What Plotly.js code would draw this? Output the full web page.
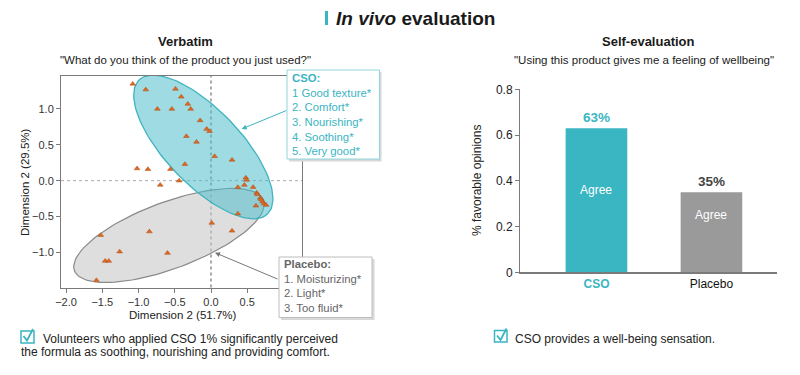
<!DOCTYPE html>
<html><head><meta charset="utf-8">
<script src="https://cdn.plot.ly/plotly-3.0.1.min.js"></script>
<style>html,body{margin:0;padding:0;background:#fff;} #chart{width:800px;height:375px;}</style>
</head><body><div id="chart"></div>
<script>
// ---- Data ----
const dimX = [-1.08,-0.90,-0.49,-0.41,-0.74,-0.54,-0.32,-0.28,-0.15,-0.06,-0.02,-0.34,-0.20,0.05,0.29,-0.36,-1.02,-0.87,-0.56,-0.70,-0.44,
  0.48,0.49,0.46,0.37,0.58,0.63,0.64,0.68,0.69,0.71,0.73,0.76,0.62,0.37,0.01,0.29,-0.85,-1.52,-1.26,-0.60,-1.46,-1.41,-1.58];
const dimY = [1.35,1.27,1.28,1.17,1.00,1.00,1.07,1.00,0.84,0.72,0.69,0.62,0.54,0.34,0.29,0.23,0.17,0.16,0.16,-0.06,0.00,
  0.04,0.01,-0.06,-0.09,-0.09,-0.17,-0.19,-0.24,-0.26,-0.29,-0.32,-0.34,-0.35,-0.46,-0.59,-0.70,-0.71,-0.76,-0.99,-1.01,-1.12,-1.12,-1.39];
const xTicks = [-2.0,-1.5,-1.0,-0.5,0.0,0.5];
const yTicks = [-1.0,-0.5,0.0,0.5,1.0];
const barCategories = ['CSO','Placebo'];
const barValues = [0.63, 0.35];
const insideLabels = ['Agree','Agree'];
const barTicks = [0,0.2,0.4,0.6,0.8];
const barTickText = ['0','0.2','0.4','0.6','0.8'];
const csoItems = ['1 Good texture*','2. Comfort*','3. Nourishing*','4. Soothing*','5. Very good*'];
const placeboItems = ['1. Moisturizing*','2. Light*','3. Too fluid*'];
// ellipse: centre x, centre y, semi-major, semi-minor, angle (deg)
const csoEllipse = [-0.106, 0.47, 1.287, 0.519, -46.7];
const placeboEllipse = [-0.579, -0.764, 1.394, 0.463, 20.7];

// ---- Helpers ----
const W = 800, H = 375;
const px = v => v / W;
const py = v => 1 - v / H;
const TEAL = '#3ab5c2';
const FONT = 'Liberation Sans, Arial, sans-serif';

function ellipsePath(p) {
  const [cx, cy, a, b, ang] = p;
  const th = ang * Math.PI / 180;
  const xs = [], ys = [];
  for (let i = 0; i <= 120; i++) {
    const t = 2 * Math.PI * i / 120;
    xs.push(cx + a * Math.cos(t) * Math.cos(th) - b * Math.sin(t) * Math.sin(th));
    ys.push(cy + a * Math.cos(t) * Math.sin(th) + b * Math.sin(t) * Math.cos(th));
  }
  return {xs, ys};
}
const ePl = ellipsePath(placeboEllipse);
const eCso = ellipsePath(csoEllipse);

const traces = [
  {x: ePl.xs, y: ePl.ys, type: 'scatter', mode: 'lines', fill: 'toself',
   fillcolor: 'rgba(200,200,200,0.6)', line: {color: '#8a8a8a', width: 1.2},
   xaxis: 'x', yaxis: 'y', hoverinfo: 'skip', showlegend: false},
  {x: eCso.xs, y: eCso.ys, type: 'scatter', mode: 'lines', fill: 'toself',
   fillcolor: 'rgba(80,190,202,0.55)', line: {color: '#3fb3bf', width: 1.3},
   xaxis: 'x', yaxis: 'y', hoverinfo: 'skip', showlegend: false},
  {x: dimX, y: dimY, type: 'scatter', mode: 'markers',
   marker: {symbol: 'triangle-up', size: 5, color: '#dc6a22', line: {color: '#b04a10', width: 0.5}},
   xaxis: 'x', yaxis: 'y', showlegend: false},
  {x: barCategories, y: barValues, type: 'bar', xaxis: 'x2', yaxis: 'y2',
   width: 0.536, marker: {color: [TEAL, '#9a9a9a']},
   text: barValues.map(v => '<b>' + Math.round(v * 100) + '%</b>'), textposition: 'outside',
   textfont: {family: FONT, size: 13.5, color: [TEAL, '#444']}, cliponaxis: false,
   showlegend: false}
];

const agreeY = [0.36, 0.25];

const shapes = [
  {type: 'line', xref: 'x', yref: 'y domain', x0: 0, x1: 0, y0: 0, y1: 1,
   line: {color: '#555', width: 1, dash: 'dot'}, layer: 'below'},
  {type: 'line', xref: 'x domain', yref: 'y', x0: 0, x1: 1, y0: 0, y1: 0,
   line: {color: '#aaa', width: 1, dash: 'dot'}, layer: 'below'},
  // title bar
  {type: 'rect', xref: 'paper', yref: 'paper', x0: px(325), x1: px(328), y0: py(25), y1: py(11),
   fillcolor: TEAL, line: {width: 0}},
  // box shadows
  {type: 'rect', xref: 'paper', yref: 'paper', x0: px(289), x1: px(381.5), y0: py(161.5), y1: py(72),
   fillcolor: '#d8d8d8', line: {width: 0}},
  {type: 'rect', xref: 'paper', yref: 'paper', x0: px(281), x1: px(374.5), y0: py(320), y1: py(259),
   fillcolor: '#d8d8d8', line: {width: 0}},
  // boxes
  {type: 'rect', xref: 'paper', yref: 'paper', x0: px(287), x1: px(379.5), y0: py(159), y1: py(70),
   fillcolor: '#fff', line: {color: '#8fd6dc', width: 1}},
  {type: 'rect', xref: 'paper', yref: 'paper', x0: px(279), x1: px(372), y0: py(317.5), y1: py(257),
   fillcolor: '#fff', line: {color: '#bdbdbd', width: 1}},
  // checkboxes
  {type: 'rect', xref: 'paper', yref: 'paper', x0: px(21), x1: px(34), y0: py(343), y1: py(331),
   line: {color: TEAL, width: 1.5}},
  {type: 'path', xref: 'paper', yref: 'paper',
   path: `M ${px(23.5)} ${py(336)} L ${px(27)} ${py(340.5)} L ${px(33)} ${py(329)}`,
   line: {color: TEAL, width: 1.8}},
  {type: 'rect', xref: 'paper', yref: 'paper', x0: px(494.5), x1: px(507), y0: py(342), y1: py(330.5),
   line: {color: TEAL, width: 1.5}},
  {type: 'path', xref: 'paper', yref: 'paper',
   path: `M ${px(497)} ${py(335.5)} L ${px(500.5)} ${py(340)} L ${px(506.5)} ${py(328.5)}`,
   line: {color: TEAL, width: 1.8}}
];

const annotations = [
  {xref: 'paper', yref: 'paper', x: px(334), y: py(18), xanchor: 'left', yanchor: 'middle', showarrow: false,
   text: '<b><i>In vivo</i> evaluation</b>', font: {family: FONT, size: 19, color: '#1a1a1a'}},
  {xref: 'paper', yref: 'paper', x: px(185), y: py(42), xanchor: 'center', yanchor: 'middle', showarrow: false,
   text: '<b>Verbatim</b>', font: {family: FONT, size: 13, color: '#1a1a1a'}},
  {xref: 'paper', yref: 'paper', x: px(185), y: py(60), xanchor: 'center', yanchor: 'middle', showarrow: false,
   text: '"What do you think of the product you just used?"', font: {family: FONT, size: 11.5, color: '#1a1a1a'}},
  {xref: 'paper', yref: 'paper', x: px(648), y: py(42), xanchor: 'center', yanchor: 'middle', showarrow: false,
   text: '<b>Self-evaluation</b>', font: {family: FONT, size: 13, color: '#1a1a1a'}},
  {xref: 'paper', yref: 'paper', x: px(644), y: py(60), xanchor: 'center', yanchor: 'middle', showarrow: false,
   text: '"Using this product gives me a feeling of wellbeing"', font: {family: FONT, size: 11.5, color: '#1a1a1a'}},
  // arrows
  {xref: 'x', yref: 'y', x: 0.423, y: 0.721, ax: 46, ay: -19, axref: 'pixel', ayref: 'pixel', text: '',
   showarrow: true, arrowhead: 2, arrowsize: 1, arrowwidth: 1, arrowcolor: '#3fb3bf', standoff: 0},
  {xref: 'x', yref: 'y', x: 0.055, y: -1.004, ax: 64, ay: 27, axref: 'pixel', ayref: 'pixel', text: '',
   showarrow: true, arrowhead: 2, arrowsize: 1, arrowwidth: 1, arrowcolor: '#777', standoff: 0},
  // label box texts
  {xref: 'paper', yref: 'paper', x: px(290.5), y: py(71), xanchor: 'left', yanchor: 'top', showarrow: false,
   align: 'left', borderpad: 0,
   text: '<b>CSO:</b><br>' + csoItems.join('<br>'), font: {family: FONT, size: 11.3, color: TEAL}},
  {xref: 'paper', yref: 'paper', x: px(282.5), y: py(257), xanchor: 'left', yanchor: 'top', showarrow: false,
   align: 'left', borderpad: 0,
   text: '<b>Placebo:</b><br>' + placeboItems.join('<br>'), font: {family: FONT, size: 11.3, color: '#666'}},
  // axis titles
  {xref: 'paper', yref: 'paper', x: px(25), y: py(182), textangle: -90, xanchor: 'center', yanchor: 'middle', showarrow: false,
   text: 'Dimension 2 (29.5%)', font: {family: FONT, size: 11.5, color: '#222'}},
  {xref: 'paper', yref: 'paper', x: px(183), y: py(315), xanchor: 'center', yanchor: 'middle', showarrow: false,
   text: 'Dimension 2 (51.7%)', font: {family: FONT, size: 11.5, color: '#222'}},
  {xref: 'paper', yref: 'paper', x: px(477), y: py(180), textangle: -90, xanchor: 'center', yanchor: 'middle', showarrow: false,
   text: '% favorable opinions', font: {family: FONT, size: 12, color: '#222'}},
  // bottom notes
  {xref: 'paper', yref: 'paper', x: px(41), y: py(339), xanchor: 'left', yanchor: 'middle', showarrow: false,
   text: 'Volunteers who applied CSO 1% significantly perceived', font: {family: FONT, size: 12, color: '#222'}},
  {xref: 'paper', yref: 'paper', x: px(19), y: py(352), xanchor: 'left', yanchor: 'middle', showarrow: false,
   text: 'the formula as soothing, nourishing and providing comfort.', font: {family: FONT, size: 12, color: '#222'}},
  {xref: 'paper', yref: 'paper', x: px(513), y: py(339), xanchor: 'left', yanchor: 'middle', showarrow: false,
   text: 'CSO provides a well-being sensation.', font: {family: FONT, size: 12, color: '#222'}}
];
barCategories.forEach((c, i) => {
  annotations.push({xref: 'x2', yref: 'y2', x: c, y: agreeY[i], showarrow: false, text: insideLabels[i],
    font: {family: FONT, size: 12, color: '#fff'}});
});

const layout = {
  width: W, height: H, margin: {l: 0, r: 0, t: 0, b: 0},
  paper_bgcolor: '#fff', plot_bgcolor: 'rgba(0,0,0,0)',
  font: {family: FONT, size: 11, color: '#333'},
  showlegend: false,
  xaxis: {domain: [px(61), px(302)], range: [-2.069, 1.255], showgrid: false, zeroline: false,
    showline: true, mirror: true, linecolor: '#7a7a7a', linewidth: 1,
    ticks: 'outside', ticklen: 4, tickcolor: '#7a7a7a', tickvals: xTicks, tickformat: '.1f',
    tickfont: {family: FONT, size: 11, color: '#333'}, anchor: 'y'},
  yaxis: {domain: [py(287.5), py(76)], range: [-1.49, 1.46], showgrid: false, zeroline: false,
    showline: true, mirror: true, linecolor: '#7a7a7a', linewidth: 1,
    ticks: 'outside', ticklen: 4, tickcolor: '#7a7a7a', tickvals: yTicks, tickformat: '.1f',
    tickfont: {family: FONT, size: 11, color: '#333'}, anchor: 'x'},
  xaxis2: {domain: [px(520), px(777)], range: [-0.665, 1.57], showgrid: false, zeroline: false,
    showline: true, linecolor: '#7a7a7a', linewidth: 1.5, ticks: '', anchor: 'y2',
    tickvals: barCategories,
    ticktext: ['<b><span style="color:' + TEAL + '">CSO</span></b>', '<span style="color:#111">Placebo</span>'],
    tickfont: {family: FONT, size: 12, color: '#111'}},
  yaxis2: {domain: [py(272.3), py(89.3)], range: [0, 0.8], showgrid: false, zeroline: false,
    showline: true, linecolor: '#7a7a7a', linewidth: 1, ticks: 'outside', ticklen: 4, tickcolor: '#7a7a7a',
    tickvals: barTicks, ticktext: barTickText, anchor: 'x2',
    tickfont: {family: FONT, size: 12, color: '#222'}},
  shapes, annotations
};

Plotly.newPlot('chart', traces, layout, {staticPlot: true, displayModeBar: false});
</script>
</body></html>
